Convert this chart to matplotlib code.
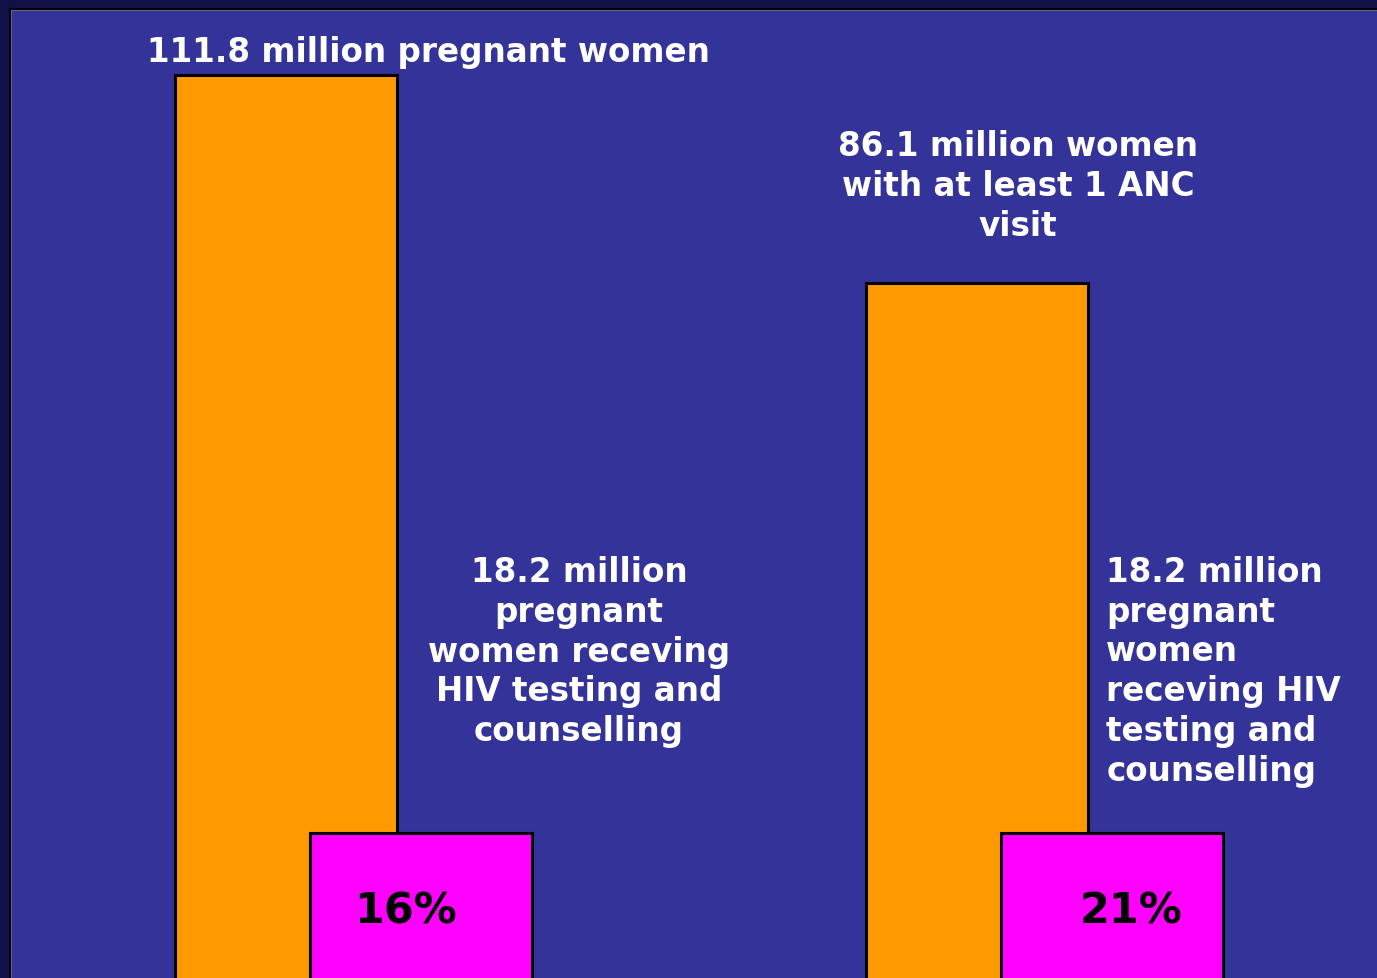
import matplotlib.pyplot as plt
from matplotlib.lines import Line2D

# Datos (millones de mujeres)
grupos = [0, 1]
embarazadas = [111.8, 86.1]      # total / con al menos 1 visita ANC
con_prueba_vih = [18.2, 18.2]    # recibieron prueba y consejería VIH
porcentajes = ['16%', '21%']

etiqueta_total = ['111.8 million pregnant women',
                  '86.1 million women\nwith at least 1 ANC\nvisit']
etiqueta_vih = ['18.2 million\npregnant\nwomen receving\nHIV testing and\ncounselling',
                '18.2 million\npregnant\nwomen\nreceving HIV\ntesting and\ncounselling']

W, H = 1377, 979
fig = plt.figure(figsize=(W / 100, H / 100), dpi=100, facecolor='#111148')
ax = fig.add_axes([10 / W, 0, (W - 10) / W, (H - 10) / H])
ax.set_facecolor('#333399')

ancho = 0.3215
desp = 0.0978
ax.bar([g - desp for g in grupos], embarazadas, width=ancho,
       color='#FF9900', edgecolor='black', linewidth=2.2, zorder=2)
ax.bar([g + desp for g in grupos], con_prueba_vih, width=ancho,
       color='#FF00FF', edgecolor='black', linewidth=2.2, zorder=3)

ax.set_xlim(-0.4975, 1.482)
ax.set_ylim(0.25, 120.0)
ax.set_xticks([])
ax.set_yticks([])
for lado in ['right', 'bottom']:
    ax.spines[lado].set_visible(False)
for lado in ['top', 'left']:
    ax.spines[lado].set_color('black')
    ax.spines[lado].set_linewidth(2.2)

# línea gris fina dentro del borde
x0, y0 = 11 / W, 1 - 11 / H
fig.add_artist(Line2D([x0, 1], [y0, y0], color='#666688', lw=0.8))
fig.add_artist(Line2D([x0, x0], [0, y0], color='#666688', lw=0.8))

fuente = dict(family='DejaVu Sans', fontweight='bold', color='white',
              fontsize=23.5, linespacing=1.265)

# Etiquetas de las barras naranjas
ax.text(0.108, 114.8, etiqueta_total[0], ha='center', va='center', **fuente)
ax.text(0.962, 98.2, etiqueta_total[1], ha='center', va='center',
        multialignment='center', **fuente)

# Etiquetas de las barras magenta
ax.text(0.3266, 40.65, etiqueta_vih[0], ha='center', va='center',
        multialignment='center', **fuente)
ax.text(1.0898, 38.2, etiqueta_vih[1], ha='left', va='center',
        multialignment='left', **fuente)

# Porcentajes dentro de las barras magenta
pos_pct = [0.076, 1.126]
for x, p in zip(pos_pct, porcentajes):
    ax.text(x, 8.65, p, ha='center', va='center', family='DejaVu Sans',
            fontweight='bold', color='black', fontsize=31, zorder=4)

fig.savefig('out.png', dpi=100, facecolor=fig.get_facecolor())
